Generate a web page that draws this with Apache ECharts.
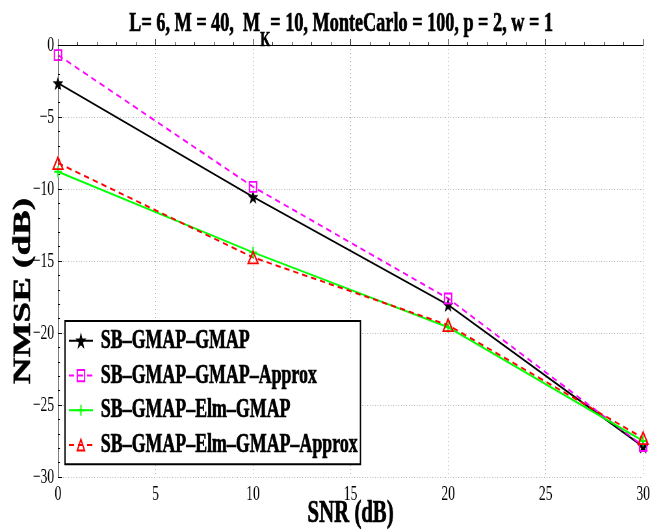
<!DOCTYPE html>
<html>
<head>
<meta charset="utf-8">
<script src="https://cdn.jsdelivr.net/npm/echarts@6/dist/echarts.min.js"></script>
<style>
html,body{margin:0;padding:0;background:#fff;overflow:hidden;}
#c{width:1011px;height:529px;transform:scaleX(0.65);transform-origin:0 0;}
</style>
</head>
<body>
<div id="c"></div>
<script>
// ---- data ----
const snr = [0, 10, 20, 30];
const nmseGmap = [-2.65, -10.55, -18.05, -27.9];
const nmseGmapApprox = [-0.7, -9.85, -17.6, -27.85];
const nmseElm = [-8.8, -14.4, -19.6, -27.5];
const nmseElmApprox = [-8.2, -14.75, -19.45, -27.3];
const seriesNames = ['SB\u2013GMAP\u2013GMAP', 'SB\u2013GMAP\u2013GMAP\u2013Approx', 'SB\u2013GMAP\u2013Elm\u2013GMAP', 'SB\u2013GMAP\u2013Elm\u2013GMAP\u2013Approx'];

const FONT = 'Liberation Serif';
const S = 0.65;
function pairs(ys){ return snr.map((x,i)=>[x, ys[i]]); }
function starPath(){
  const pts=[];
  for(let i=0;i<10;i++){
    const r = i%2 ? 0.4 : 1;
    const a = -Math.PI/2 + i*Math.PI/5;
    pts.push((50+50*r*Math.cos(a)).toFixed(2)+','+(50+50*r*Math.sin(a)).toFixed(2));
  }
  return 'path://M'+pts.join('L')+'Z';
}
const clear = 'rgba(0,0,0,0)';
const boldText = {fontFamily:FONT,fontWeight:'bold',color:'#000',textBorderColor:'#000',textBorderWidth:0.7};
const chart = echarts.init(document.getElementById('c'));
chart.setOption({
  animation:false,
  backgroundColor:'#fff',
  title:{
    text:'{a|L= 6, M = 40,  M}{s|K}{a|= 10, MonteCarlo = 100, p = 2, w = 1}',
    left:126/S, top:5,
    textStyle:{
      rich:{
        a:Object.assign({},boldText,{fontSize:28,lineHeight:30,verticalAlign:'top'}),
        s:Object.assign({},boldText,{fontSize:20,lineHeight:22,padding:[21,0,0,0],verticalAlign:'top'})
      }
    }
  },
  grid:{left:58/S,right:14/S,top:45,bottom:52,outerBoundsMode:'none',containLabel:false},
  legend:{
    orient:'vertical', left:65/S, top:321,
    itemWidth:37, itemHeight:14, itemGap:6,
    padding:[5.5,4,5,5],
    borderColor:'#000', borderWidth:2, backgroundColor:'#fff',
    textStyle:Object.assign({},boldText,{fontSize:27.5,lineHeight:27.5,padding:[0,0,0,7]}),
    data:seriesNames
  },
  xAxis:{
    type:'value', min:0, max:30, interval:5,
    name:'SNR (dB)', nameLocation:'middle', nameGap:21, nameMoveOverlap:false,
    nameTextStyle:Object.assign({},boldText,{fontSize:32}),
    axisLine:{show:true,lineStyle:{color:'#000',width:1}},
    axisTick:{show:true,inside:true,length:6,lineStyle:{color:'#000'}},
    minorTick:{show:true,splitNumber:5,length:3,lineStyle:{color:'#000'}},
    axisLabel:{fontFamily:FONT,fontSize:21,color:'#000',margin:7},
    splitLine:{show:true,lineStyle:{color:'#9a9a9a',type:[1,3],width:1}}
  },
  yAxis:{
    type:'value', min:-30, max:0, interval:5,
    name:'NMSE (dB)', nameLocation:'middle', nameGap:34, nameRotate:90, nameMoveOverlap:false,
    nameTextStyle:Object.assign({},boldText,{fontSize:37,padding:[0,60,0,0]}),
    axisLine:{show:true,lineStyle:{color:'#000',width:1}},
    axisTick:{show:true,inside:true,length:6,lineStyle:{color:'#000'}},
    minorTick:{show:true,splitNumber:5,length:3,lineStyle:{color:'#000'}},
    axisLabel:{fontFamily:FONT,fontSize:21,color:'#000',margin:6,
      formatter:v=>String(v).replace('-','\u2212')},
    splitLine:{show:true,lineStyle:{color:'#9a9a9a',type:[1,3],width:1}}
  },
  series:[
    {name:seriesNames[0],type:'line',data:pairs(nmseGmap),
     symbol:starPath(),symbolSize:[15,13],
     lineStyle:{color:'#000',width:2,type:'solid'},
     itemStyle:{color:'#000',borderColor:'#000',borderWidth:0.5}},
    {name:seriesNames[1],type:'line',data:pairs(nmseGmapApprox),
     symbol:'rect',symbolSize:[11,10],
     lineStyle:{color:'#ff00ff',width:2,type:[8,6]},
     itemStyle:{color:clear,borderColor:'#ff00ff',borderWidth:2}},
    {name:seriesNames[2],type:'line',data:pairs(nmseElm),
     symbol:'path://M0,50L100,50M50,0L50,100',symbolSize:[12,11],
     lineStyle:{color:'#00ff00',width:2,type:'solid'},
     itemStyle:{color:clear,borderColor:'#00ff00',borderWidth:2}},
    {name:seriesNames[3],type:'line',data:pairs(nmseElmApprox),
     symbol:'triangle',symbolSize:[15,12],
     lineStyle:{color:'#ff0000',width:2,type:[8,6]},
     itemStyle:{color:clear,borderColor:'#ff0000',borderWidth:2}}
  ]
});
</script>
</body>
</html>
